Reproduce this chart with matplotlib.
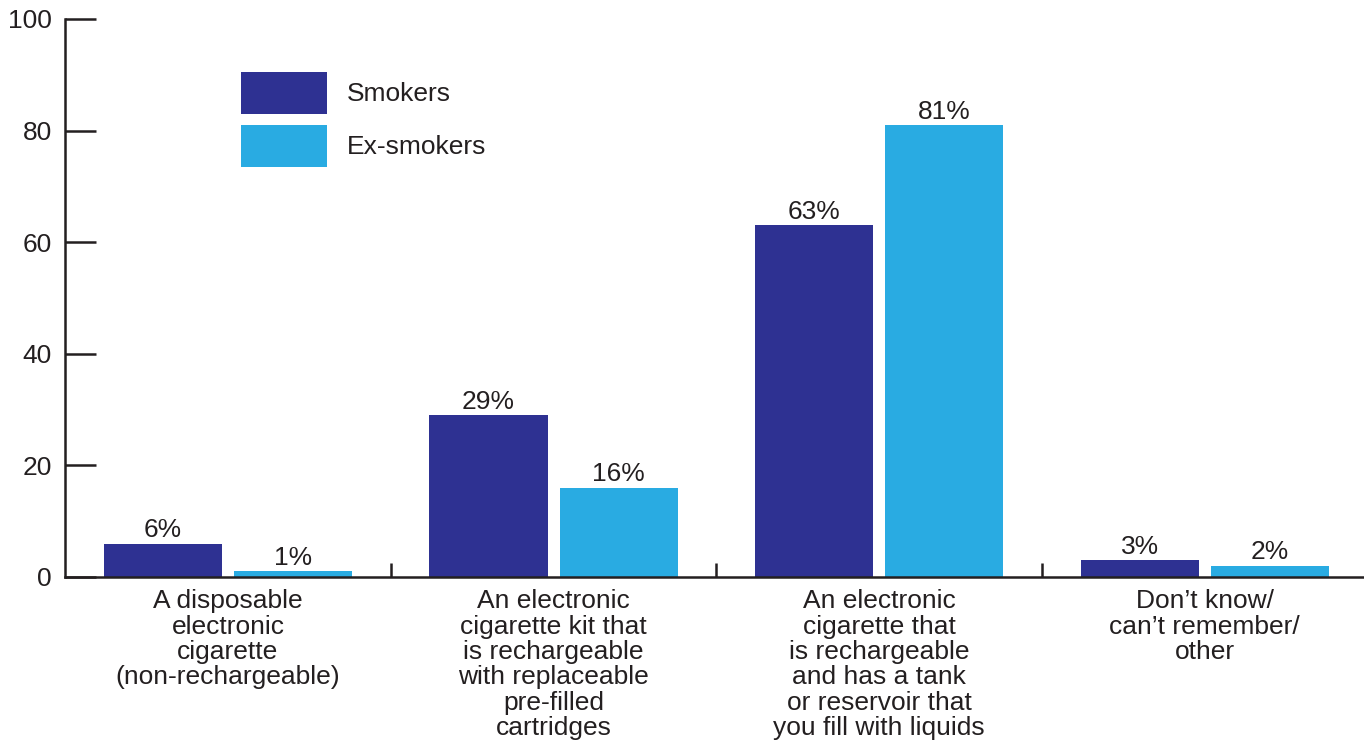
import numpy as np
import matplotlib.pyplot as plt

plt.rcParams["font.family"] = ["Liberation Sans", "DejaVu Sans"]

categories = [
    "A disposable\nelectronic\ncigarette\n(non-rechargeable)",
    "An electronic\ncigarette kit that\nis rechargeable\nwith replaceable\npre-filled\ncartridges",
    "An electronic\ncigarette that\nis rechargeable\nand has a tank\nor reservoir that\nyou fill with liquids",
    "Don\u2019t know/\ncan\u2019t remember/\nother",
]
smokers = [6, 29, 63, 3]
ex_smokers = [1, 16, 81, 2]
series_names = ["Smokers", "Ex-smokers"]
y_ticks = [0, 20, 40, 60, 80, 100]

dark = "#2E3192"
light = "#29ABE2"
ink = "#231F20"
fs = 19

fig = plt.figure(figsize=(13.64, 7.42), dpi=100)
ax = fig.add_axes([0.0477, 0.2224, 0.955, 0.752])

x = np.arange(len(categories))
w = 0.363
b1 = ax.bar(x - 0.2, smokers, w, color=dark, label=series_names[0])
b2 = ax.bar(x + 0.2, ex_smokers, w, color=light, label=series_names[1])

for bars, vals in ((b1, smokers), (b2, ex_smokers)):
    ax.bar_label(bars, labels=[f"{v}%" for v in vals], padding=1,
                 fontsize=fs, color=ink)

ax.set_xlim(-0.5, 3.5)
ax.set_ylim(0, 100)
ax.set_yticks(y_ticks)

# group separators as major ticks, category labels on minor ticks
ax.set_xticks(np.arange(0.5, len(categories) - 0.5, 1.0))
ax.set_xticklabels([])
ax.set_xticks(x, minor=True)
ax.set_xticklabels(categories, minor=True, fontsize=fs, color=ink,
                   linespacing=1.07)

ax.tick_params(axis="x", which="major", direction="in", length=10,
               width=1.8, color=ink)
ax.tick_params(axis="x", which="minor", length=0, pad=9)
ax.tick_params(axis="y", direction="in", length=22, width=1.8,
               color=ink, labelsize=fs, labelcolor=ink, pad=9.5)

for side in ("top", "right"):
    ax.spines[side].set_visible(False)
for side in ("left", "bottom"):
    ax.spines[side].set_linewidth(1.8)
    ax.spines[side].set_color(ink)

ax.legend(loc="upper left", bbox_to_anchor=(241 / 1364, 1 - 72 / 742),
          bbox_transform=fig.transFigure, frameon=False, fontsize=fs,
          handlelength=3.26, handleheight=2.07, labelspacing=0.42,
          handletextpad=0.76, borderpad=0, borderaxespad=0)
for t in ax.get_legend().get_texts():
    t.set_color(ink)

fig.savefig("out.png", dpi=100)
